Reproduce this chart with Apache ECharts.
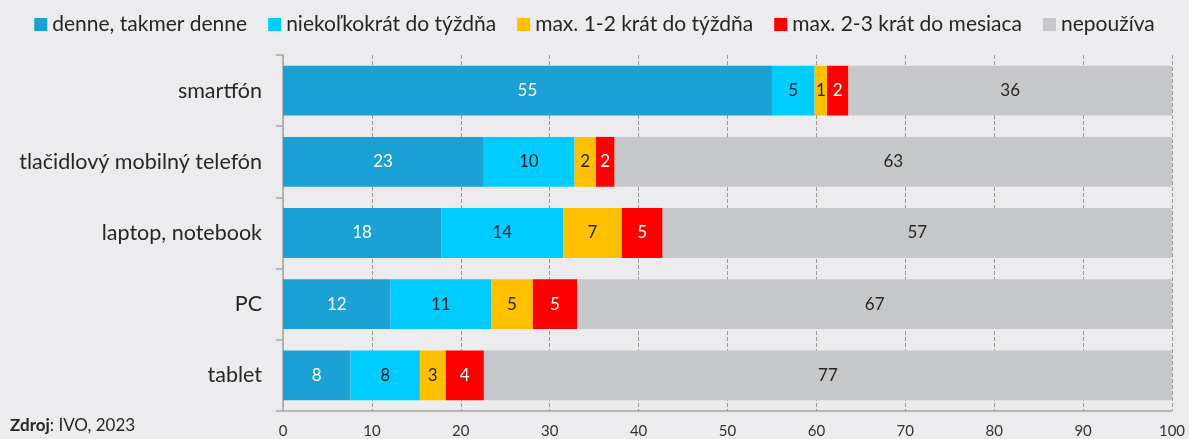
<!DOCTYPE html>
<html>
<head>
<meta charset="utf-8">
<script src="https://cdn.jsdelivr.net/npm/echarts@6/dist/echarts.min.js"></script>
<style>
  html, body { margin: 0; padding: 0; background: #ececee; }
  #chart { width: 1189px; height: 439px; }
</style>
</head>
<body>
<div id="chart"></div>
<script>
// kategórie (zhora nadol)
var categories = ['smartfón', 'tlačidlový mobilný telefón', 'laptop, notebook', 'PC', 'tablet']
var seriesNames = ['denne, takmer denne', 'niekoľkokrát do týždňa', 'max. 1-2 krát do týždňa', 'max. 2-3 krát do mesiaca', 'nepoužíva']
// hodnoty v %
var denne = [55.0, 22.5, 17.8, 12.1, 7.6]
var tyzdenne = [4.8, 10.3, 13.7, 11.3, 7.8]
var max12 = [1.4, 2.4, 6.6, 4.7, 2.9]
var max23 = [2.4, 2.1, 4.6, 5.0, 4.3]
var nepouziva = [36.4, 62.7, 57.3, 66.9, 77.4]
var xTicks = [0, 10, 20, 30, 40, 50, 60, 70, 80, 90, 100]

var colors = ['#1ba1d3', '#00ccff', '#ffc000', '#ff0000', '#c6c7c8']
var labelColors = ['#ffffff', '#262626', '#262626', '#ffffff', '#262626']
var allData = [denne, tyzdenne, max12, max23, nepouziva]
var font = 'Lato'

var chart = echarts.init(document.getElementById('chart'))

var series = seriesNames.map(function(name, i) {
  return {
    name: name,
    type: 'bar',
    stack: 'total',
    barWidth: '70%',
    itemStyle: { color: colors[i] },
    label: {
      show: true,
      position: 'inside',
      color: labelColors[i],
      fontFamily: font,
      fontSize: 17,
      formatter: function(p) { return Math.round(p.value) }
    },
    data: allData[i]
  }
})

var option = {
  backgroundColor: '#ececee',
  animation: false,
  legend: {
    data: seriesNames,
    top: 9,
    left: 'center',
    itemWidth: 13,
    itemHeight: 13,
    itemGap: 21,
    icon: 'rect',
    textStyle: { fontFamily: font, fontSize: 21, color: '#262626' }
  },
  grid: {
    left: 283,
    right: 17,
    top: 55,
    bottom: 28,
    containLabel: false
  },
  xAxis: {
    type: 'value',
    min: 0,
    max: 100,
    interval: 10,
    axisLine: { show: true, lineStyle: { color: '#a6a6a6', width: 1.5 } },
    axisTick: { show: false },
    axisLabel: {
      margin: 13,
      fontFamily: font,
      fontSize: 15,
      color: '#333333',
      formatter: function(v) { return xTicks.indexOf(v) !== -1 ? v : '' }
    },
    splitLine: { show: true, lineStyle: { color: '#9a9a9a', type: 'dashed', width: 1 } }
  },
  yAxis: {
    type: 'category',
    inverse: true,
    data: categories,
    axisLine: { show: true, lineStyle: { color: '#a6a6a6', width: 1.5 } },
    axisTick: { show: true, length: 7, lineStyle: { color: '#a6a6a6', width: 1.5 } },
    axisLabel: { margin: 21, fontFamily: font, fontSize: 21.5, color: '#262626' }
  },
  graphic: [{
    type: 'text',
    left: 10,
    top: 417,
    style: {
      text: '{b|Zdroj}: IVO, 2023',
      fontFamily: font,
      fontSize: 17,
      fill: '#262626',
      rich: { b: { fontFamily: font, fontSize: 17, fontWeight: 'bold', fill: '#262626' } }
    }
  }],
  series: series
}

chart.setOption(option)
</script>
</body>
</html>
